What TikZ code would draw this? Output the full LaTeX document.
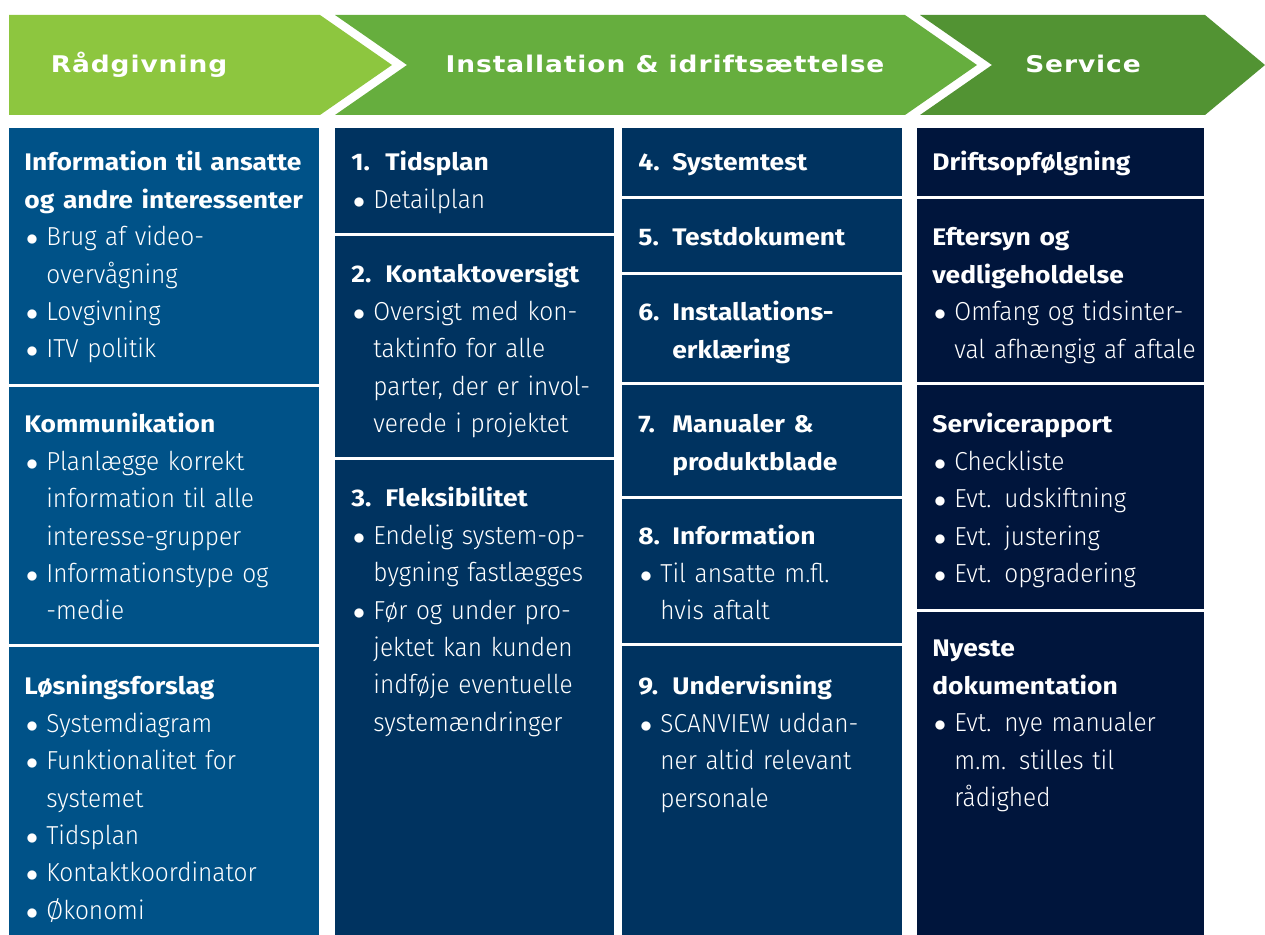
\documentclass[tikz,border=0pt]{standalone}
\usepackage{fontspec}
\setmainfont{Fira Sans}
\newfontfamily\bodyfont{Fira Sans}[UprightFont={* Light},FakeStretch=0.94]
\newfontfamily\titlefont{Fira Sans}[UprightFont={* Bold},FakeStretch=1.1]
\newfontfamily\headfont{DejaVu Sans}[UprightFont={* Bold},FakeStretch=1.15,LetterSpace=4]
\definecolor{greenA}{HTML}{8DC63F}
\definecolor{greenB}{HTML}{66AE3E}
\definecolor{greenC}{HTML}{529333}
\definecolor{blueA}{HTML}{005288}
\definecolor{blueB}{HTML}{003360}
\definecolor{blueC}{HTML}{00153C}
\newcommand{\ttl}[1]{{\titlefont\fontsize{12}{18.7}\selectfont #1\par}}
\newcommand{\nttl}[2]{{\titlefont\fontsize{12}{18.7}\selectfont\hangindent=17pt\hangafter=1\noindent\makebox[17pt][l]{#1}#2\par}}
\newcommand{\itm}[1]{\par\hangindent=11pt\hangafter=1\noindent\makebox[11pt][l]{\hspace{0.8pt}$\bullet$}#1\par}
\tikzset{
  phase/.style={anchor=base, inner sep=0pt, text=white, font=\headfont\fontsize{11.5}{14}\selectfont},
  sec/.style={anchor=base west, inner sep=0pt, text width=150pt, align=left, text=white,
    font=\bodyfont\fontsize{13}{18.7}\selectfont},
}
\begin{document}
\begin{tikzpicture}[x=0.5pt,y=-0.5pt]
\useasboundingbox (0,0) rectangle (1265,935);
% phase arrows
\fill [greenA] (9,15) -- (320,15) -- (392,65) -- (320,115) -- (9,115) -- cycle;
\fill [greenB] (335,15) -- (905,15) -- (977,65) -- (905,115) -- (335,115) -- (407,65) -- cycle;
\fill [greenC] (920,15) -- (1205,15) -- (1265,65) -- (1205,115) -- (920,115) -- (992,65) -- cycle;
\node [phase] (hRaad) at (139,73) {Rådgivning};
\node [phase] (hInst) at (665,73) {Installation \& idriftsættelse};
\node [phase] (hServ) at (1083,73) {Service};
% column 1
\fill [blueA] (9,128) rectangle (319,384);
\fill [blueA] (9,387) rectangle (319,644);
\fill [blueA] (9,647) rectangle (319,935);
% column 2
\fill [blueB] (335,128) rectangle (614,233);
\fill [blueB] (335,236) rectangle (614,457);
\fill [blueB] (335,460) rectangle (614,935);
% column 3
\fill [blueB] (622,128) rectangle (902,196);
\fill [blueB] (622,199) rectangle (902,272);
\fill [blueB] (622,275) rectangle (902,382);
\fill [blueB] (622,385) rectangle (902,496);
\fill [blueB] (622,499) rectangle (902,643);
\fill [blueB] (622,646) rectangle (902,935);
% column 4
\fill [blueC] (917,128) rectangle (1204,196);
\fill [blueC] (917,199) rectangle (1204,382);
\fill [blueC] (917,385) rectangle (1204,609);
\fill [blueC] (917,612) rectangle (1204,935);
% texts, column 1
\node [sec] (info) at (24,171) {\ttl{Information til ansatte\\og andre interessenter}%
  \itm{Brug af video-\newline overvågning}\itm{Lovgivning}\itm{ITV politik}};
\node [sec] (komm) at (24,433) {\ttl{Kommunikation}%
  \itm{Planlægge korrekt\newline information til alle\newline interesse-grupper}%
  \itm{Informationstype og\newline -medie}};
\node [sec] (losn) at (24,695) {\ttl{Løsningsforslag}%
  \itm{Systemdiagram}\itm{Funktionalitet for\newline systemet}\itm{Tidsplan}%
  \itm{Kontaktkoordinator}\itm{Økonomi}};
% column 2
\node [sec] (tids) at (351,171) {\nttl{1.}{Tidsplan}\itm{Detailplan}};
\node [sec] (kont) at (351,283) {\nttl{2.}{Kontaktoversigt}%
  \itm{Oversigt med kon-\newline taktinfo for alle\newline parter, der er invol-\newline verede i projektet}};
\node [sec] (fleks) at (351,507) {\nttl{3.}{Fleksibilitet}%
  \itm{Endelig system-op-\newline bygning fastlægges}%
  \itm{Før og under pro-\newline jektet kan kunden\newline indføje eventuelle\newline systemændringer}};
% column 3
\node [sec] (syst) at (638,171) {\nttl{4.}{Systemtest}};
\node [sec] (testd) at (638,246) {\nttl{5.}{Testdokument}};
\node [sec] (inst) at (638,321) {\nttl{6.}{Installations-\newline erklæring}};
\node [sec] (manu) at (638,433) {\nttl{7.}{Manualer \&\newline produktblade}};
\node [sec] (infm) at (638,545) {\nttl{8.}{Information}\itm{Til ansatte m.fl.\newline hvis aftalt}};
\node [sec] (underv) at (638,695) {\nttl{9.}{Undervisning}%
  \itm{SCANVIEW uddan-\newline ner altid relevant\newline personale}};
% column 4
\node [sec] (drift) at (932,171) {\ttl{Driftsopfølgning}};
\node [sec] (efter) at (932,246) {\ttl{Eftersyn og\\vedligeholdelse}%
  \itm{Omfang og tidsinter-\newline val afhængig af aftale}};
\node [sec] (servr) at (932,433) {\ttl{Servicerapport}%
  \itm{Checkliste}\itm{Evt. udskiftning}\itm{Evt. justering}\itm{Evt. opgradering}};
\node [sec] (nyeste) at (932,657) {\ttl{Nyeste\\dokumentation}%
  \itm{Evt. nye manualer\newline m.m. stilles til\newline rådighed}};
\end{tikzpicture}
\end{document}
